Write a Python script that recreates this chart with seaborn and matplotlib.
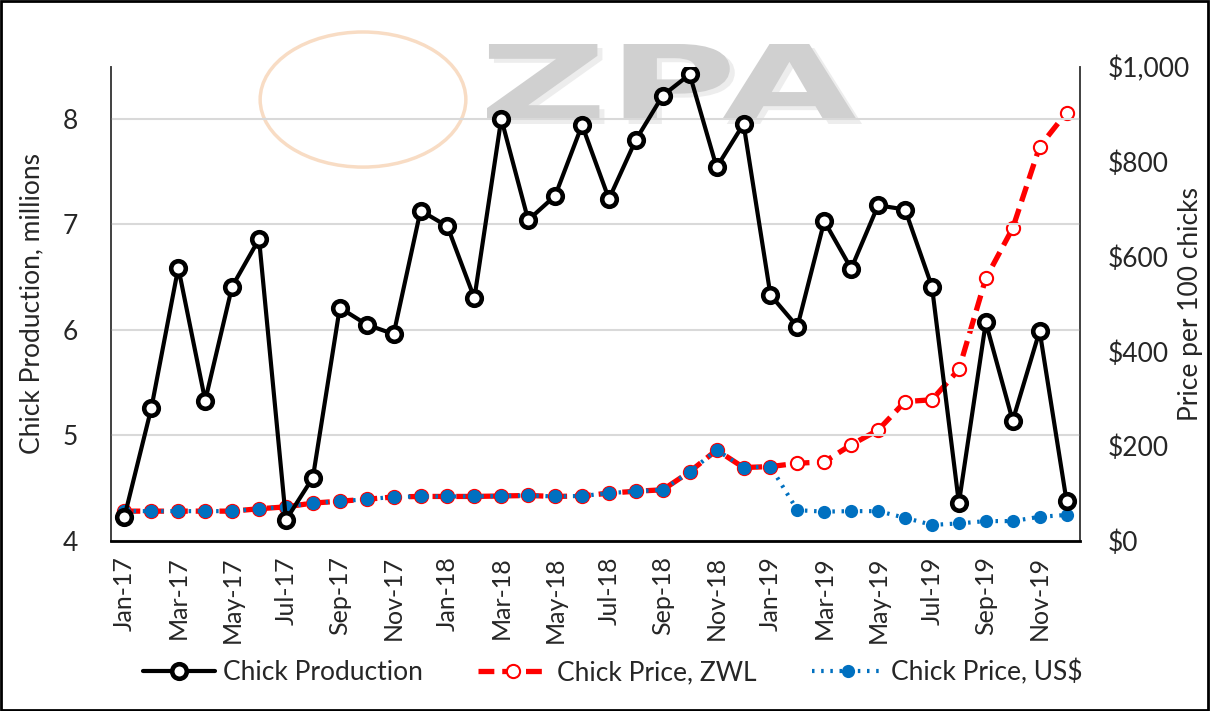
import matplotlib
matplotlib.use("Agg")
import matplotlib.pyplot as plt
import seaborn as sns
import pandas as pd
import numpy as np
from matplotlib.patches import Rectangle, Ellipse, PathPatch
from matplotlib.textpath import TextPath
from matplotlib.font_manager import FontProperties
from matplotlib.transforms import Affine2D, IdentityTransform

months = ["Jan-17","Feb-17","Mar-17","Apr-17","May-17","Jun-17","Jul-17","Aug-17","Sep-17","Oct-17","Nov-17","Dec-17",
          "Jan-18","Feb-18","Mar-18","Apr-18","May-18","Jun-18","Jul-18","Aug-18","Sep-18","Oct-18","Nov-18","Dec-18",
          "Jan-19","Feb-19","Mar-19","Apr-19","May-19","Jun-19","Jul-19","Aug-19","Sep-19","Oct-19","Nov-19","Dec-19"]

production = [4.23, 5.26, 6.59, 5.33, 6.41, 6.86, 4.20, 4.60, 6.21, 6.05, 5.96, 7.13,
              6.98, 6.30, 8.00, 7.04, 7.27, 7.94, 7.24, 7.80, 8.22, 8.42, 7.54, 7.95,
              6.33, 6.03, 7.03, 6.58, 7.18, 7.14, 6.41, 4.36, 6.07, 5.14, 5.99, 4.38]

price_zwl = [63, 63, 63, 63, 63, 68, 72, 80, 84, 88, 93, 94,
             94, 94, 95, 96, 94, 95, 101, 105, 108, 146, 192, 155,
             157, 164, 167, 203, 234, 294, 298, 362, 554, 660, 832, 904]

price_usd = [63, 63, 63, 63, 63, 68, 72, 80, 84, 88, 93, 94,
             94, 94, 95, 96, 94, 95, 101, 105, 108, 146, 192, 155,
             157, 65, 62, 63, 63, 49, 34, 37, 42, 42, 51, 55]

df = pd.DataFrame({"idx": np.arange(len(months)), "month": months,
                   "production": production, "zwl": price_zwl, "usd": price_usd})

sns.set_theme(style="white")
plt.rcParams['font.family'] = ['Lato', 'DejaVu Sans']

W, H = 1210, 711
fig = plt.figure(figsize=(12.1, 7.11), dpi=100)
ax = fig.add_axes([111 / W, 1 - 541 / H, 969 / W, 474 / H])
ax2 = ax.twinx()

# watermark: chicken outline + stretched "ZPA"
fig.patches.append(Ellipse((0.30, 0.86), 0.17, 0.19, transform=fig.transFigure,
                           fill=False, edgecolor='#f8dcc4', linewidth=2.5, zorder=0))
tp = TextPath((0, 0), "ZPA", size=100, prop=FontProperties(family='DejaVu Sans', weight='bold'))
ext = tp.get_extents()
sx = 370 / ext.width
sy = 76 / ext.height
for dx, dy, col in [(5, -4, '#ededed'), (0, 0, '#d0d0d0')]:
    tr = Affine2D().translate(-ext.x0, -ext.y0).scale(sx, sy).translate(487 + dx, H - 120 + dy)
    fig.patches.append(PathPatch(tr.transform_path(tp), transform=IdentityTransform(),
                                 facecolor=col, edgecolor='none', zorder=0))

ax.set_zorder(ax2.get_zorder() + 1)
ax.patch.set_visible(False)

ax.set_ylim(4, 8.49)
ax.set_yticks([4, 5, 6, 7, 8])
ax.grid(axis='y', color='#d9d9d9', linewidth=1.5)
ax.grid(axis='x', visible=False)
ax2.set_ylim(0, 1000)
ax2.set_yticks([0, 200, 400, 600, 800, 1000])
ax2.set_yticklabels(["$0", "$200", "$400", "$600", "$800", "$1,000"])
ax2.grid(False)

sns.lineplot(data=df, x="idx", y="zwl", ax=ax2, color='#ff0000', linewidth=3.8,
             linestyle=(0, (3, 1.5)), marker='o', markersize=9.5, markerfacecolor='white',
             markeredgecolor='#ff0000', markeredgewidth=1.5, label="Chick Price, ZWL", legend=False)
sns.lineplot(data=df, x="idx", y="usd", ax=ax2, color='#0070c0', linewidth=3,
             linestyle=(0, (0.6, 1.6)), marker='o', markersize=9.5, markerfacecolor='#0070c0',
             markeredgecolor='#0070c0', markeredgewidth=0, label="Chick Price, US$", legend=False)
sns.lineplot(data=df, x="idx", y="production", ax=ax, color='black', linewidth=3,
             marker='o', markersize=10.5, markerfacecolor='white', markeredgecolor='black',
             markeredgewidth=3.3, label="Chick Production", legend=False)

ax.set_xlim(-0.5, len(months) - 0.5)
ax.set_xticks(df["idx"][::2])
ax.set_xticklabels(df["month"][::2], rotation=90, fontsize=18)
ax.set_xlabel("")
ax.set_ylabel("Chick Production, millions", fontsize=19)
ax2.set_ylabel("Price per 100 chicks", fontsize=19)
ax.yaxis.set_label_coords((44 - 111) / 969, 0.5)
ax2.yaxis.set_label_coords((1178 - 111) / 969, 0.5)
ax.tick_params(axis='y', labelsize=19, length=0, pad=24)
ax.tick_params(axis='x', length=0, pad=11)
ax2.tick_params(axis='y', labelsize=19, length=0, pad=20)

for a in (ax, ax2):
    a.spines['top'].set_visible(False)
    for s in ('left', 'right', 'bottom'):
        a.spines[s].set_color('#404040')
        a.spines[s].set_linewidth(1.2)
ax.spines['bottom'].set_color('black')
ax.spines['bottom'].set_linewidth(2)

h1, l1 = ax.get_legend_handles_labels()
h2, l2 = ax2.get_legend_handles_labels()
fig.legend(h1 + h2, l1 + l2, loc='center', bbox_to_anchor=(613 / W, 1 - 672 / H), ncol=3,
           frameon=False, fontsize=19, handlelength=2.7, columnspacing=2.1, handletextpad=0.3)

fig.patches.append(Rectangle((0.001, 0.002), 0.997, 0.996, transform=fig.transFigure,
                             fill=False, edgecolor='black', linewidth=2))

fig.savefig("out.png", dpi=100)
